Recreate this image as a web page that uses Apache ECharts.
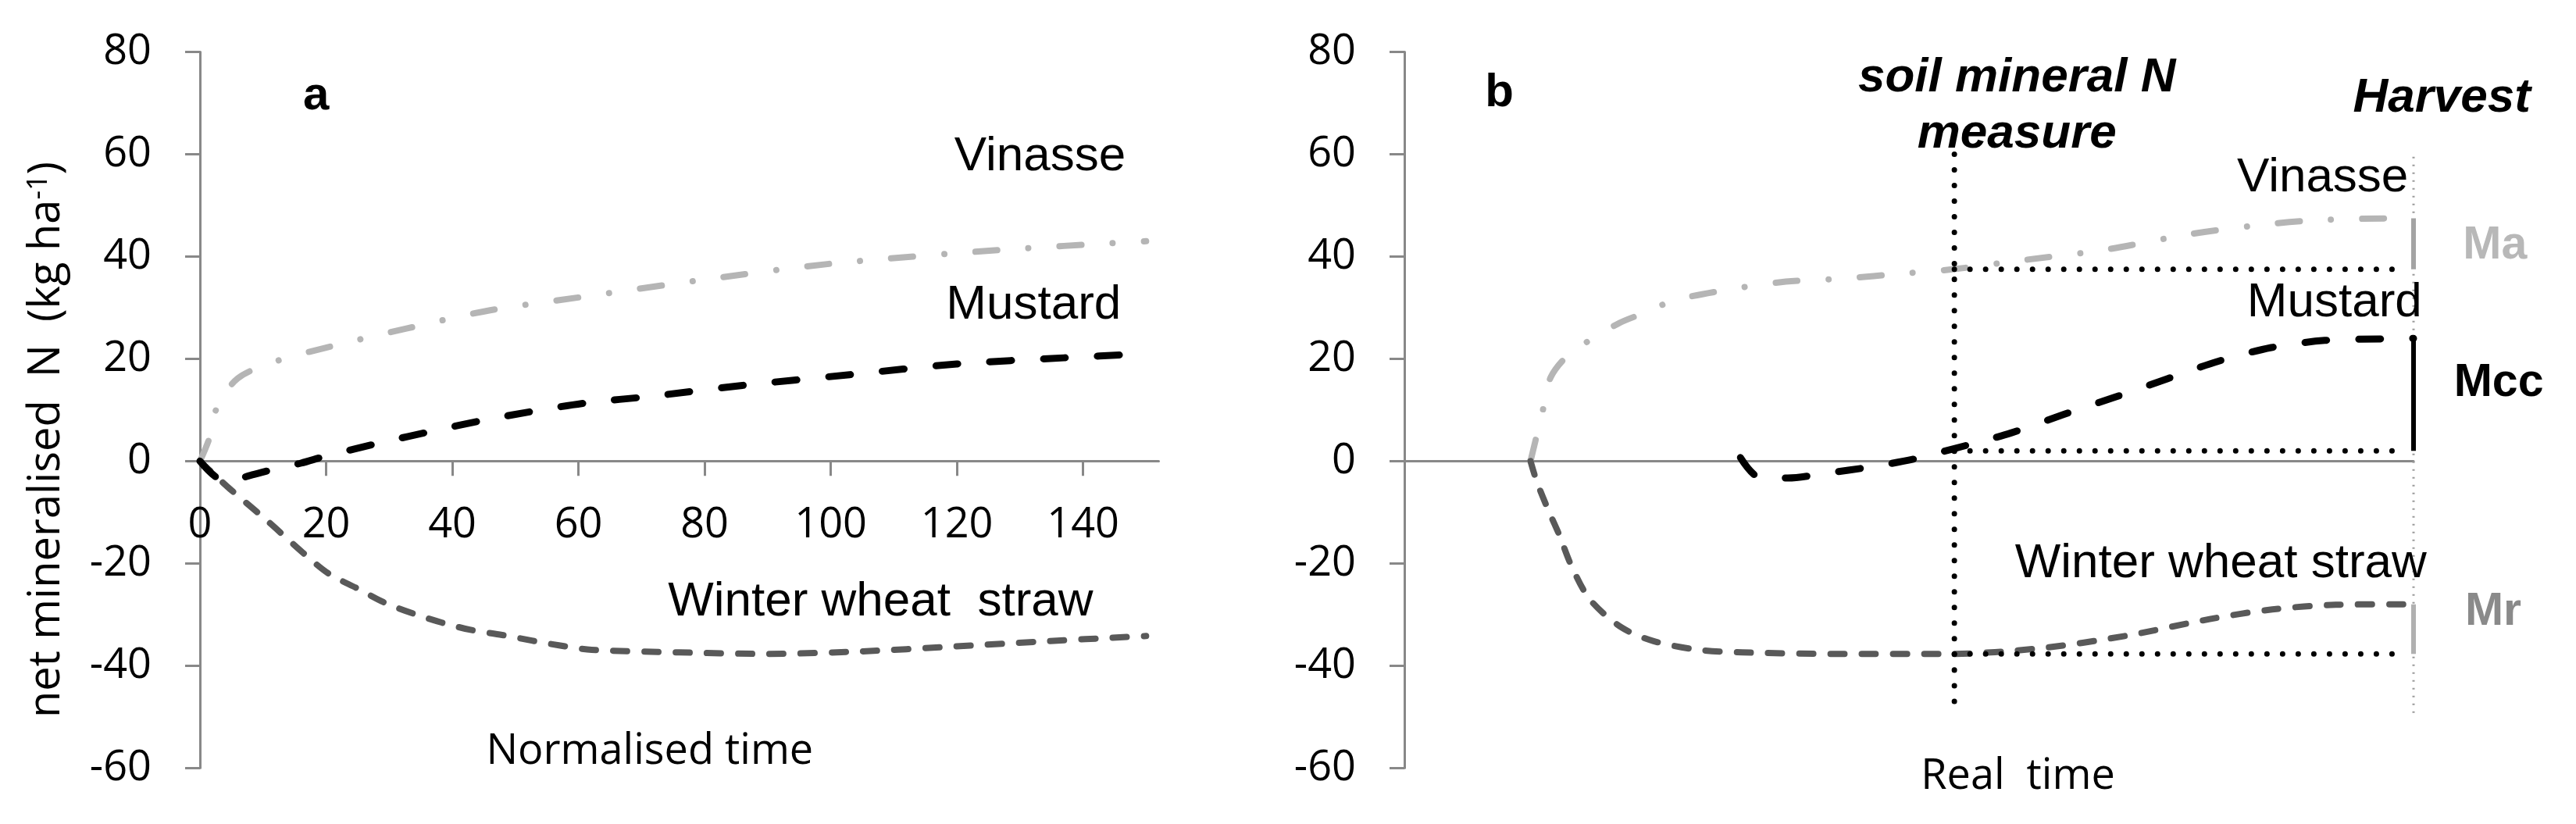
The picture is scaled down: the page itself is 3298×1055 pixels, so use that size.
<!DOCTYPE html>
<html><head><meta charset="utf-8">
<script src="https://cdn.jsdelivr.net/npm/echarts@6/dist/echarts.min.js"></script>
<style>html,body{margin:0;padding:0;background:#fff;}#c{width:3298px;height:1055px;}</style>
</head><body><div id="c"></div>
<script>
// ---------- data ----------
const yTickValues = [-60, -40, -20, 0, 20, 40, 60, 80];
const xTickValuesA = [0, 20, 40, 60, 80, 100, 120, 140];

// panel a (normalised time)
const vinasseA = [[0,0],[1.5,4.5],[2.7,10.5],[6,16.2],[12,19.5],[20,22.2],[33,26],[46,29.5],[60,32],[80,35.5],[100,38.6],[127,41.3],[150,43]];
const mustardA = [[0,0],[4,-4],[8,-2.8],[12,-1.5],[16,-0.4],[20,1],[29,3.7],[37,5.9],[45,8],[54,10],[62,11.5],[71,12.6],[86,14.8],[103,16.9],[120,19],[137,20.2],[150,21]];
const wheatA = [[0,0],[2.4,-2.8],[4.8,-5.5],[10.7,-11.7],[16.4,-18],[20.4,-22],[25.1,-25],[29.3,-27.7],[34,-29.9],[38.4,-31.6],[42.9,-33],[47.9,-34],[52.6,-35.1],[57.3,-36.1],[62.1,-36.9],[76,-37.4],[90,-37.7],[105,-37.2],[119,-36.3],[133,-35.3],[150,-34.2]];

// panel b (real time)
const vinasseB = [[12.5,0],[13.8,10.6],[14.5,16.4],[16.3,20.8],[21.1,26.8],[23.8,29.0],[26.7,31.4],[32,33.5],[37.8,35.1],[43.5,35.7],[49.5,36.7],[54.3,37.5],[60.9,39.2],[69.3,41.3],[77.9,44.4],[84,46],[89.4,47],[95,47.4],[100,47.5]];
const mustardB = [[33.3,0.7],[35.3,-3.3],[38,-3.3],[42,-2.3],[46,-1.2],[50.5,0.4],[54.2,2.3],[56.3,3.4],[60.1,5.5],[65.3,9.1],[70.4,12.5],[75.6,16.1],[80.6,19.5],[85.9,22.2],[91.2,23.6],[96.7,23.9],[100,24]];
const wheatB = [[12.5,0],[13.1,-3.9],[14.2,-9.3],[15.3,-14.2],[16.6,-20.7],[18.4,-27.1],[21.5,-32.5],[24.7,-35.2],[29.1,-36.9],[33.5,-37.4],[42.4,-37.7],[54,-37.7],[63,-36.6],[71.4,-34.2],[79.8,-30.9],[86,-29],[92.3,-28.1],[98.4,-28],[100,-28]];

const soilLine = [[54.5,60],[54.5,-50]];
const harvestLine = [[100,59.5],[100,-50]];
const vinasseRef = [[54.5,37.5],[99,37.5]];
const mustardRef = [[54.5,2],[99,2]];
const wheatRef = [[54.5,-37.7],[99,-37.7]];
const maBar = [[100,47.5],[100,37.5]];
const mccBar = [[100,24],[100,2]];
const mrBar = [[100,-28],[100,-37.7]];

// annotations: [text, panel, x, y, align, kind]
const notes = [
  ['a', 0, 18.4, 71.3, 'center', 'letter'],
  ['Vinasse', 0, 119.6, 59.5, 'left', 'name'],
  ['Mustard', 0, 118.3, 30.4, 'left', 'name'],
  ['Winter wheat  straw', 0, 74.2, -27.6, 'left', 'name'],
  ['Normalised time', 0, 71.3, -56.9, 'center', 'axis'],
  ['b', 1, 8.0, 71.9, 'left', 'letter'],
  ['soil mineral N', 1, 60.7, 74.9, 'center', 'event'],
  ['measure', 1, 60.7, 63.9, 'center', 'event'],
  ['Harvest', 1, 102.8, 70.9, 'center', 'event'],
  ['Vinasse', 1, 82.5, 55.4, 'left', 'name'],
  ['Mustard', 1, 83.5, 30.9, 'left', 'name'],
  ['Winter wheat straw', 1, 60.5, -20.1, 'left', 'name'],
  ['Ma', 1, 104.9, 42.1, 'left', 'ma'],
  ['Mcc', 1, 104.0, 15.2, 'left', 'mcc'],
  ['Mr', 1, 105.1, -29.6, 'left', 'mr'],
  ['Real  time', 1, 60.8, -61.8, 'center', 'axis']
];

// ---------- styles ----------
const AX = '#888888';
const styles = {
  letter: {font: 'bold 60px "Liberation Sans", Arial', fill: '#000'},
  name: {font: '62px "Liberation Sans", Arial', fill: '#000'},
  axis: {font: '54px "Open Sans"', fill: '#000'},
  event: {font: 'italic bold 62px "Liberation Sans", Arial', fill: '#000'},
  ma: {font: 'bold 59px "Liberation Sans", Arial', fill: '#b8b8b8'},
  mcc: {font: 'bold 59px "Liberation Sans", Arial', fill: '#000'},
  mr: {font: 'bold 59px "Liberation Sans", Arial', fill: '#8a8a8a'}
};

const Y_MIN = -60, Y_MAX = 80;
const GRID_H = 916.6;
const zeroOffset = -GRID_H * (0 - Y_MIN) / (Y_MAX - Y_MIN);

function yAxisCfg(gi) {
  return {
    type: 'value', gridIndex: gi, min: Y_MIN, max: Y_MAX, interval: 20,
    splitLine: {show: false},
    axisLine: {show: true, onZero: false, lineStyle: {color: AX, width: 3}},
    axisTick: {show: true, inside: false, length: 19, lineStyle: {color: AX, width: 3}},
    axisLabel: {fontFamily: 'Open Sans', fontSize: 54, color: '#000', margin: 62, customValues: yTickValues}
  };
}

function lineSeries(data, gi, color, width, type, z) {
  return {
    type: 'line', xAxisIndex: gi, yAxisIndex: gi, data: data,
    showSymbol: false, symbol: 'none', smooth: 0.3, z: z || 3,
    lineStyle: {color: color, width: width, type: type, cap: 'round', join: 'round'},
    emphasis: {disabled: true}, silent: true
  };
}
function straight(data, gi, color, width, type, z, cap) {
  const s = lineSeries(data, gi, color, width, type, z);
  s.smooth = false;
  if (cap) s.lineStyle.cap = cap;
  return s;
}

const DOT = [0.01, 20];
const option = {
  backgroundColor: '#ffffff',
  animation: false,
  grid: [
    {left: 256, top: 66.6, width: 1227.5, height: GRID_H, containLabel: false, outerBoundsMode: 'none'},
    {left: 1798, top: 66.6, width: 1292, height: GRID_H, containLabel: false, outerBoundsMode: 'none'}
  ],
  xAxis: [
    {type: 'value', gridIndex: 0, min: 0, max: 152, interval: 20, position: 'bottom', offset: zeroOffset,
     splitLine: {show: false},
     axisLine: {show: true, onZero: false, lineStyle: {color: AX, width: 3}},
     axisTick: {show: true, length: 19, customValues: xTickValuesA, lineStyle: {color: AX, width: 3}},
     axisLabel: {fontFamily: 'Open Sans', fontSize: 54, color: '#000', margin: 55, customValues: xTickValuesA}},
    {type: 'value', gridIndex: 1, min: 0, max: 100, position: 'bottom', offset: zeroOffset,
     splitLine: {show: false},
     axisLine: {show: true, onZero: false, lineStyle: {color: AX, width: 3}},
     axisTick: {show: false}, axisLabel: {show: false}}
  ],
  yAxis: [yAxisCfg(0), yAxisCfg(1)],
  series: [
    lineSeries(vinasseA, 0, '#b5b5b5', 8, [28, 40, 0.01, 40]),
    lineSeries(wheatA, 0, '#595959', 8, [18, 22]),
    lineSeries(mustardA, 0, '#000000', 9, [28, 41], 4),

    straight(harvestLine, 1, '#9a9a9a', 3, [2, 8], 2, 'butt'),
    lineSeries(vinasseB, 1, '#b5b5b5', 8, [28, 40, 0.01, 40]),
    lineSeries(wheatB, 1, '#595959', 8, [18, 22]),
    lineSeries(mustardB, 1, '#000000', 9, [28, 41], 4),
    straight(maBar, 1, '#a3a3a3', 6, 'solid', 5, 'butt'),
    straight(mccBar, 1, '#000000', 6, 'solid', 5, 'butt'),
    straight(mrBar, 1, '#b0b0b0', 6, 'solid', 5, 'butt'),
    straight(soilLine, 1, '#000000', 7, DOT, 6),
    straight(vinasseRef, 1, '#000000', 7, DOT, 6),
    straight(mustardRef, 1, '#000000', 7, DOT, 6),
    straight(wheatRef, 1, '#000000', 7, DOT, 6)
  ]
};

const chart = echarts.init(document.getElementById('c'), null, {renderer: 'canvas'});
chart.setOption(option);

const graphics = notes.map(function (n) {
  const p = chart.convertToPixel({gridIndex: n[1]}, [n[2], n[3]]);
  const st = styles[n[5]];
  return {
    type: 'text', x: p[0], y: p[1], silent: true, z: 100,
    style: {text: n[0], font: st.font, fill: st.fill, textAlign: n[4], textVerticalAlign: 'middle'}
  };
});
graphics.push({
  type: 'text', x: 60, y: 563, rotation: Math.PI / 2, silent: true, z: 100,
  style: {
    text: 'net mineralised  N  (kg ha{sup|-1})',
    font: '56px "Open Sans"', fill: '#000',
    textAlign: 'center', textVerticalAlign: 'middle',
    rich: {sup: {fontFamily: 'Open Sans', fontSize: 36, verticalAlign: 'top', lineHeight: 56}}
  }
});
chart.setOption({graphic: graphics});
</script>
</body></html>
